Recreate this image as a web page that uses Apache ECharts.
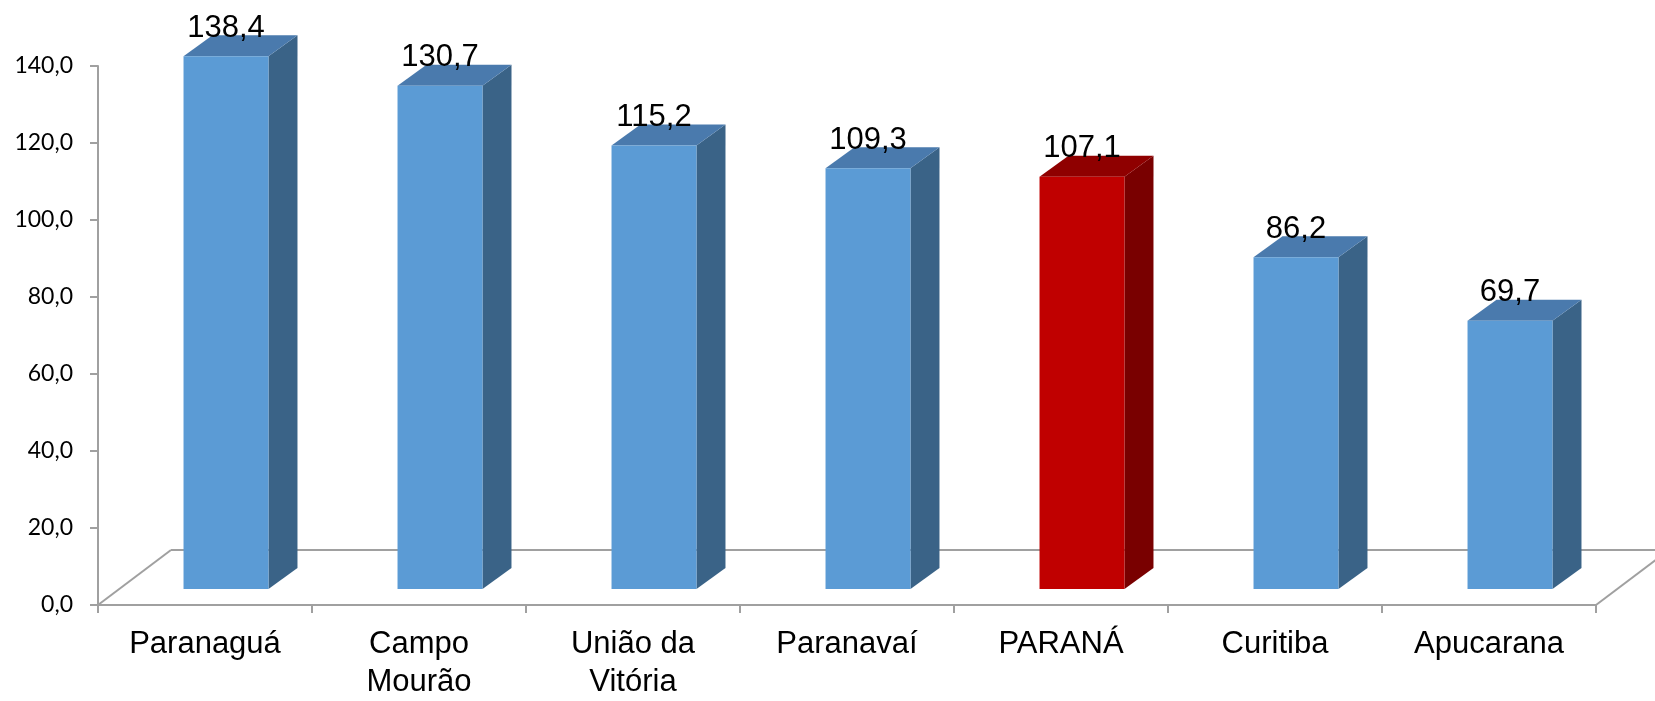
<!DOCTYPE html>
<html>
<head>
<meta charset="utf-8">
<script src="https://cdn.jsdelivr.net/npm/echarts@6/dist/echarts.min.js"></script>
<style>
html,body{margin:0;padding:0;background:#fff;overflow:hidden;}
#chart{width:1655px;height:701px;}
</style>
</head>
<body>
<div id="chart"></div>
<script>
// ---- data ----
const categories = ['Paranaguá', 'Campo\nMourão', 'União da\nVitória', 'Paranavaí', 'PARANÁ', 'Curitiba', 'Apucarana'];
const values = [138.4, 130.7, 115.2, 109.3, 107.1, 86.2, 69.7];
const yTicks = { min: 0, max: 140, interval: 20 };
const highlightCategory = 'PARANÁ';

// ---- styling / geometry constants ----
const BLUE = { front: '#5B9BD5', top: '#4A7AAD', side: '#3A6387' };
const RED = { front: '#C00000', top: '#8F0000', side: '#790000' };
const FRONT_OFF = [21, -16];   // offset of bar front face from axis plane
const DEPTH = [29, -21];       // bar depth
const FLOOR = [73, -55];       // floor depth
const BAR_RATIO = 0.397;
const GRAY = '#A0A0A0';

const fmt = v => v.toFixed(1).replace('.', ',');

const chart = echarts.init(document.getElementById('chart'), null, { renderer: 'canvas', width: 1655, height: 701 });

function renderBar(params, api) {
  const idx = api.value(0), val = api.value(1);
  const top = api.coord([idx, val]);
  const base = api.coord([idx, 0]);
  const bw = api.size([1, 0])[0];
  const w = bw * BAR_RATIO;
  const cx = top[0] + FRONT_OFF[0];
  const x1 = cx - w / 2, x2 = cx + w / 2;
  const yT = top[1] + FRONT_OFF[1], yB = base[1] + FRONT_OFF[1];
  const c = categories[idx] === highlightCategory ? RED : BLUE;
  return {
    type: 'group',
    children: [
      { type: 'polygon', shape: { points: [[x2, yT], [x2 + DEPTH[0], yT + DEPTH[1]], [x2 + DEPTH[0], yB + DEPTH[1]], [x2, yB]] },
        style: { fill: c.side } },
      { type: 'polygon', shape: { points: [[x1, yT], [x1 + DEPTH[0], yT + DEPTH[1]], [x2 + DEPTH[0], yT + DEPTH[1]], [x2, yT]] },
        style: { fill: c.top } },
      { type: 'rect', shape: { x: x1, y: yT, width: w, height: yB - yT },
        style: { fill: c.front } },
      { type: 'text', x: cx, y: yT - 28, z2: 10,
        style: { text: fmt(val), fill: '#000', font: '31px "Liberation Sans", Arial, sans-serif',
                 align: 'center', verticalAlign: 'middle' } }
    ]
  };
}

function renderFloor(params, api) {
  const p0 = api.coord([0, 0]);
  const bw = api.size([1, 0])[0];
  const left = p0[0] - bw / 2;
  const right = left + categories.length * bw;
  const y0 = p0[1];
  const ls = { stroke: GRAY, lineWidth: 2, fill: null };
  return {
    type: 'group',
    children: [
      { type: 'line', shape: { x1: left, y1: y0, x2: left + FLOOR[0], y2: y0 + FLOOR[1] }, style: ls },
      { type: 'line', shape: { x1: left + FLOOR[0], y1: y0 + FLOOR[1], x2: right + FLOOR[0], y2: y0 + FLOOR[1] }, style: ls },
      { type: 'line', shape: { x1: right, y1: y0, x2: right + FLOOR[0], y2: y0 + FLOOR[1] }, style: ls }
    ]
  };
}

chart.setOption({
  animation: false,
  backgroundColor: '#fff',
  grid: { left: 98, width: 1498, top: 66, height: 546, containLabel: false },
  xAxis: {
    type: 'category',
    data: categories,
    axisLine: { show: true, lineStyle: { color: GRAY, width: 2 } },
    axisTick: { show: true, length: 8, lineStyle: { color: GRAY, width: 2 } },
    axisLabel: { color: '#000', fontSize: 31, fontFamily: '"Liberation Sans", Arial, sans-serif',
                 lineHeight: 38, margin: 20, interval: 0 },
    splitLine: { show: false }
  },
  yAxis: {
    type: 'value',
    min: yTicks.min, max: yTicks.max, interval: yTicks.interval,
    axisLine: { show: true, lineStyle: { color: GRAY, width: 2 } },
    axisTick: { show: true, length: 8, lineStyle: { color: GRAY, width: 2 } },
    axisLabel: { color: '#000', fontSize: 23, fontFamily: 'Lato, "Open Sans", sans-serif', margin: 25,
                 formatter: v => fmt(v) },
    splitLine: { show: false }
  },
  series: [
    { type: 'custom', name: 'floor', renderItem: renderFloor, data: [[0, 0]], clip: false, z: 1, silent: true },
    { type: 'custom', name: 'values', renderItem: renderBar, data: values.map((v, i) => [i, v]),
      encode: { x: 0, y: 1 }, clip: false, z: 2 }
  ]
});
</script>
</body>
</html>
